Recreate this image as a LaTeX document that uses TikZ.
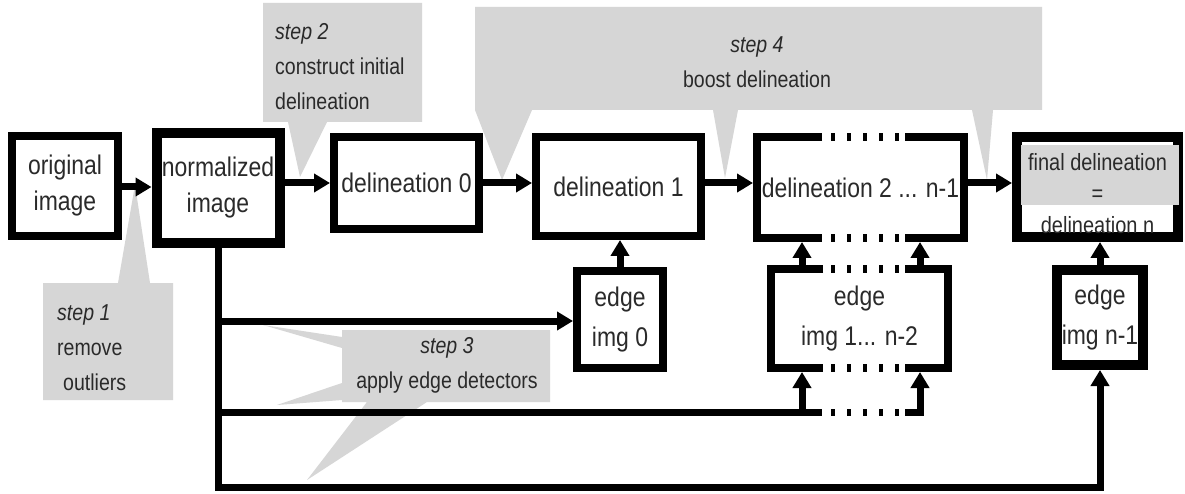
\documentclass[tikz,border=0pt]{standalone}
\usepackage{fontspec}
\setmainfont{Liberation Sans}[FakeStretch=0.85]
\usetikzlibrary{arrows.meta}
\definecolor{callgray}{HTML}{D6D6D6}
\definecolor{txt}{HTML}{2A2A2A}
\begin{document}
\begin{tikzpicture}[x=1pt,y=-1pt,
  box/.style={draw=black, fill=white, line width=8pt, inner sep=0pt, text=txt, align=center, font=\fontsize{27}{36}\selectfont},
  thickbox/.style={box, line width=10pt},
  edgetext/.style={font=\fontsize{27}{40}\selectfont},
  border/.style={line width=8pt, line join=miter},
  dotline/.style={line width=8pt, dash pattern=on 4pt off 12pt},
  wire/.style={line width=7pt, line join=miter},
  wiredots/.style={line width=7pt, dash pattern=on 4pt off 12pt},
  conn/.style={wire, -{Triangle[length=16pt,width=18pt]}},
  ctext/.style={inner sep=0pt, text=txt, font=\fontsize{23}{35}\selectfont},
  callout/.style={fill=callgray}
]
\useasboundingbox (0,0) rectangle (1185,494);
\fill[white] (0,0) rectangle (1185,494);

% callouts (background)
\fill[callout] (43,283) -- (118,283) -- (135,185) -- (150,283) -- (173,283) -- (173,400) -- (43,400) -- cycle;
\fill[callout] (263,3) -- (422,3) -- (422,122) -- (327,122) -- (300,177) -- (288,122) -- (263,122) -- cycle;
\fill[callout] (475,7) -- (1042,7) -- (1042,110) -- (993,110) -- (987,180) -- (972,110)
  -- (738,110) -- (725,178) -- (713,110) -- (532,110) -- (502,180) -- (475,110) -- cycle;
\fill[callout] (342,330) -- (550,330) -- (550,402) -- (427,402) -- (307,480) -- (367,402)
  -- (342,402) -- (342,400) -- (277,405) -- (342,383) -- (342,348) -- (263,325) -- (342,337) -- cycle;

\node[ctext, anchor=west, align=left] (s1) at (57,348) {\textit{step 1}\\remove\\\hspace*{6pt}outliers};
\node[ctext, anchor=west, align=left] (s2) at (275,67) {\textit{step 2}\\construct initial\\delineation};
\node[ctext, align=center] (s4) at (757,62) {\textit{step 4}\\boost delineation};
\node[ctext, align=center] (s3) at (447,365) {\textit{step 3}\\apply edge detectors};

% boxes
\node[box, minimum width=106pt, minimum height=100pt] (orig) at (65,186) {original\\image};
\node[thickbox, minimum width=123pt, minimum height=110pt] (norm) at (218,188) {normalized\\image};
\node[box, minimum width=145pt, minimum height=92pt] (d0) at (406.5,183) {delineation 0};
\node[box, minimum width=165pt, minimum height=99pt] (d1) at (618.5,186.5) {delineation 1};
\node[box, draw=none, minimum width=207pt, minimum height=101pt] (d2) at (860.5,187.5) {delineation 2 ... n-1};
\node[thickbox, minimum width=161pt, minimum height=100pt] (fin) at (1097.5,187) {};
\fill[callgray] (1021,145) rectangle (1179,205);
\node[ctext, font=\fontsize{23.5}{31.5}\selectfont, align=center] (fintext) at (1097.5,193.5) {final delineation\\=\\delineation n};
\node[box, edgetext, minimum width=86pt, minimum height=97pt] (e0) at (620,319.5) {edge\\img 0};
\node[box, edgetext, draw=none, minimum width=177pt, minimum height=99pt] (e12) at (859.5,318.5) {edge\\img 1... n-2};
\node[thickbox, edgetext, minimum width=86pt, minimum height=95pt] (en1) at (1100,317.5) {edge\\img n-1};

% dotted box borders
\draw[border] (822,137) -- (757,137) -- (757,238) -- (822,238);
\draw[border] (905,137) -- (964,137) -- (964,238) -- (905,238);
\draw[dotline] (831,137) -- (900,137);
\draw[dotline] (831,238) -- (900,238);
\draw[border] (823,269) -- (771,269) -- (771,368) -- (823,368);
\draw[border] (905,269) -- (948,269) -- (948,368) -- (905,368);
\draw[dotline] (831,269) -- (900,269);
\draw[dotline] (831,368) -- (900,368);

% main chain
\draw[conn] (orig.east |- 0,187) -- (norm.west |- 0,187);
\draw[conn] (norm.east |- d0.west) -- (d0.west);
\draw[conn] (d0.east) -- (d0.east -| d1.west);
\draw[conn] (d1.east |- d0.east) -- (d0.east -| d2.west);
\draw[conn] (d2.east |- d0.east) -- (d0.east -| fin.west);

% edge detector feeds
\coordinate (t1) at (218,321);
\coordinate (t2) at (218,412);
\coordinate (t3) at (218,487);
\coordinate (a1) at (802,412);
\coordinate (a2) at (920,412);
\coordinate (g1) at (822,412);
\coordinate (g2) at (905,412);
\draw[conn] (norm.south) -- (t3) -| (en1.south);
\draw[conn] (t1) -- (t1 -| e0.west);
\draw[wire] (t2) -- (g1);
\draw[wiredots] (831,412) -- (900,412);
\draw[conn] (a1) -- (a1 |- e12.south);
\draw[conn] (g2) -| (a2 |- e12.south);
\draw[conn] (a1 |- e12.north) -- (a1 |- d2.south);
\draw[conn] (a2 |- e12.north) -- (a2 |- d2.south);
\draw[conn] (e0.north) -- (e0.north |- d1.south);
\draw[conn] (en1.north) -- (en1.north |- fin.south);
\end{tikzpicture}
\end{document}
